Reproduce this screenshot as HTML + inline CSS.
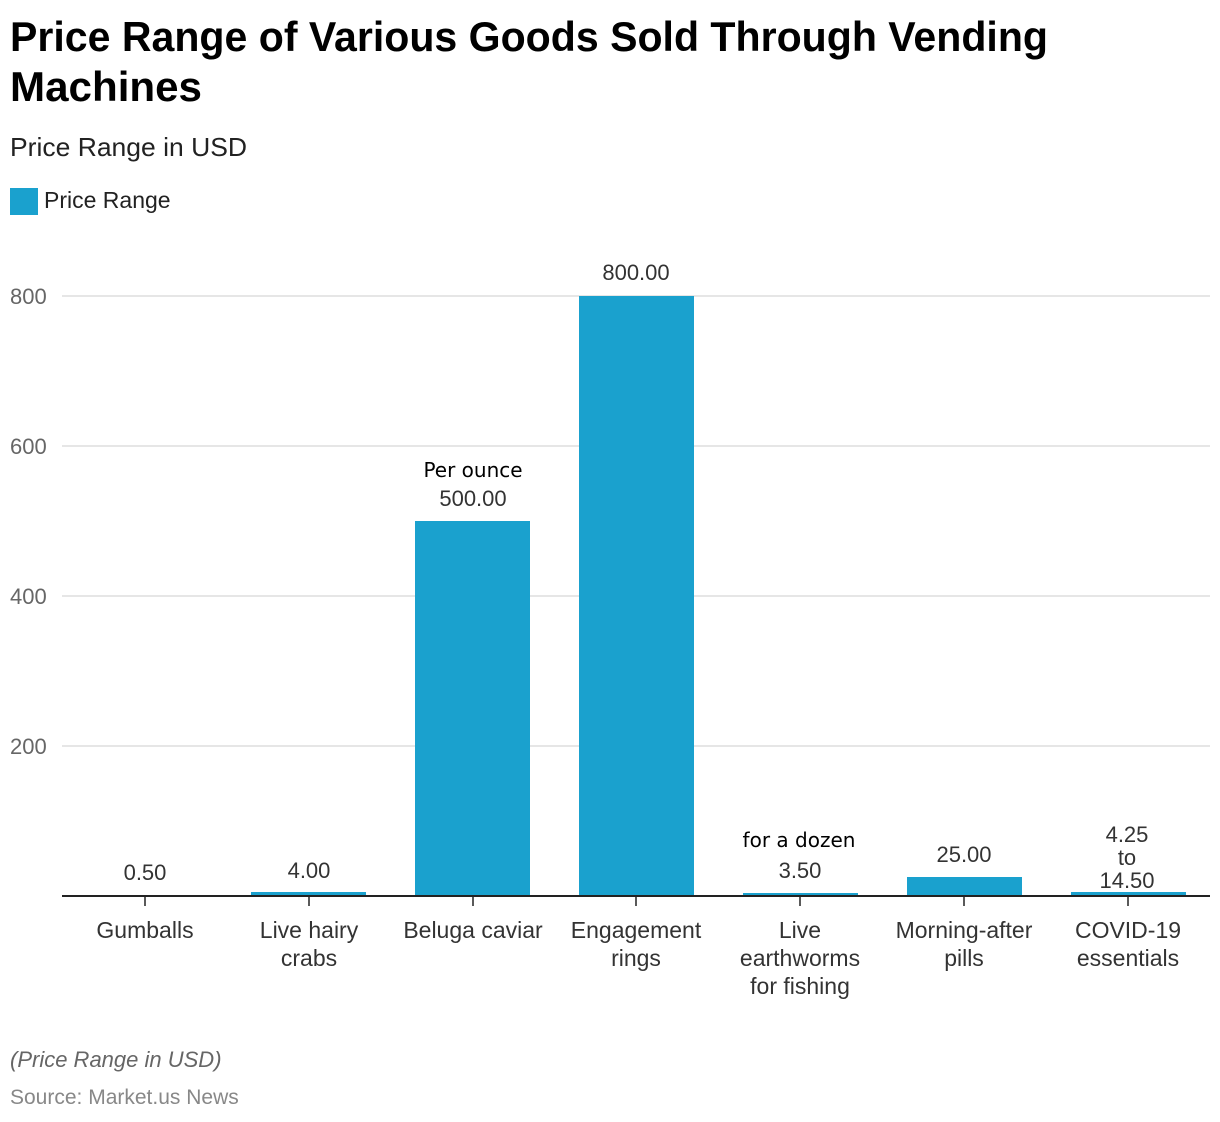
<!DOCTYPE html>
<html><head><meta charset="utf-8"><style>
body{margin:0;background:#fff;width:1220px;height:1122px;overflow:hidden}
svg{display:block;font-family:"Liberation Sans",Roboto,sans-serif}
</style></head><body>
<svg width="1220" height="1122" xmlns="http://www.w3.org/2000/svg">
<text x="10" y="51" font-size="42" font-weight="bold" fill="#000" textLength="1038" lengthAdjust="spacingAndGlyphs">Price Range of Various Goods Sold Through Vending</text>
<text x="10" y="101" font-size="42" font-weight="bold" fill="#000" textLength="192" lengthAdjust="spacingAndGlyphs">Machines</text>
<text x="10" y="156" font-size="26" fill="#222" textLength="237" lengthAdjust="spacingAndGlyphs">Price Range in USD</text>
<rect x="10" y="188" width="28" height="27" fill="#1aa1ce"/>
<text x="44" y="208" font-size="23" fill="#222">Price Range</text>
<g stroke="#ddd" stroke-width="1.5">
<line x1="62" y1="296" x2="1210" y2="296"/>
<line x1="62" y1="446" x2="1210" y2="446"/>
<line x1="62" y1="596" x2="1210" y2="596"/>
<line x1="62" y1="746" x2="1210" y2="746"/>
</g>
<g font-size="22" fill="#666">
<text x="10" y="304">800</text><text x="10" y="454">600</text><text x="10" y="604">400</text><text x="10" y="754">200</text>
</g>
<g fill="#1aa1ce">
<rect x="251" y="892" width="115" height="4"/>
<rect x="415" y="521" width="115" height="375"/>
<rect x="579" y="296" width="115" height="600"/>
<rect x="743" y="893" width="115" height="3"/>
<rect x="907" y="877" width="115" height="19"/>
<rect x="1071" y="892" width="115" height="4"/>
</g>
<line x1="62" y1="896" x2="1210" y2="896" stroke="#222" stroke-width="2"/>
<g stroke="#222" stroke-width="1.5">
<line x1="145" y1="896" x2="145" y2="906"/><line x1="309" y1="896" x2="309" y2="906"/><line x1="473" y1="896" x2="473" y2="906"/><line x1="636" y1="896" x2="636" y2="906"/><line x1="800" y1="896" x2="800" y2="906"/><line x1="964" y1="896" x2="964" y2="906"/><line x1="1128" y1="896" x2="1128" y2="906"/>
</g>
<g font-size="22" fill="#333" text-anchor="middle">
<text x="145" y="880">0.50</text>
<text x="309" y="878">4.00</text>
<text x="473" y="506">500.00</text>
<text x="636" y="280">800.00</text>
<text x="800" y="878">3.50</text>
<text x="964" y="862">25.00</text>
<text x="1127" y="842">4.25</text>
<text x="1127" y="865">to</text>
<text x="1127" y="888">14.50</text>
</g>
<g font-size="20" fill="#000" text-anchor="middle" font-family="'DejaVu Sans',sans-serif">
<text x="473" y="477">Per ounce</text>
<text x="799" y="847">for a dozen</text>
</g>
<g font-size="23" fill="#333" text-anchor="middle">
<text x="145" y="938">Gumballs</text>
<text x="309" y="938">Live hairy</text><text x="309" y="966">crabs</text>
<text x="473" y="938">Beluga caviar</text>
<text x="636" y="938">Engagement</text><text x="636" y="966">rings</text>
<text x="800" y="938">Live</text><text x="800" y="966">earthworms</text><text x="800" y="994">for fishing</text>
<text x="964" y="938">Morning-after</text><text x="964" y="966">pills</text>
<text x="1128" y="938">COVID-19</text><text x="1128" y="966">essentials</text>
</g>
<text x="10" y="1067" font-size="22" font-style="italic" fill="#666">(Price Range in USD)</text>
<text x="10" y="1104" font-size="21" fill="#888">Source: Market.us News</text>
</svg>
</body></html>
